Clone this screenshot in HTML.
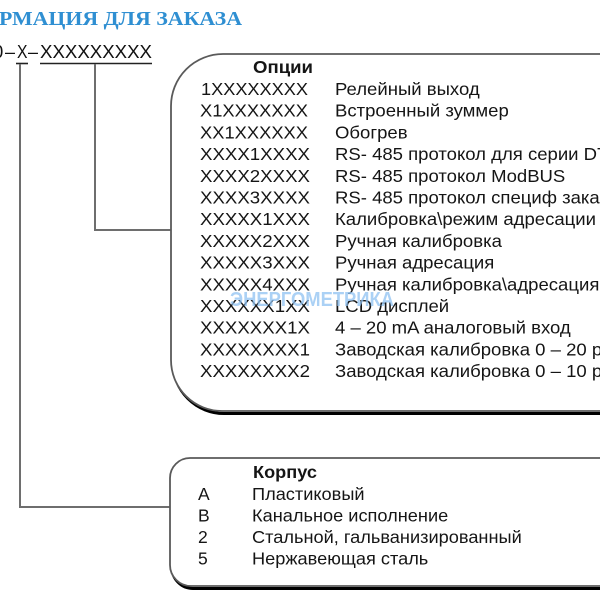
<!DOCTYPE html>
<html>
<head>
<meta charset="utf-8">
<style>
html,body{margin:0;padding:0;background:#fff;}
svg{display:block;}
.t{font-family:"Liberation Sans",Arial,sans-serif;font-size:17.5px;fill:#151515;}
.c{font-family:"Liberation Sans",Arial,sans-serif;font-size:18.5px;fill:#111;}
.b{font-family:"Liberation Sans",Arial,sans-serif;font-size:17.5px;font-weight:bold;fill:#151515;}
</style>
</head>
<body>
<svg width="600" height="600" viewBox="0 0 600 600" xmlns="http://www.w3.org/2000/svg">
  <rect width="600" height="600" fill="#fff"/>

  <!-- Title -->
  <text x="-1" y="25" textLength="243" lengthAdjust="spacingAndGlyphs" font-family="'Liberation Serif',serif" font-weight="bold" font-size="20" fill="#2f8fd2">РМАЦИЯ ДЛЯ ЗАКАЗА</text>

  <!-- Code line -->
  <text class="c" x="-7" y="58">0</text>
  <text class="c" x="5" y="58" textLength="10" lengthAdjust="spacingAndGlyphs">–</text>
  <text class="c" x="17" y="58" textLength="10.5" lengthAdjust="spacingAndGlyphs">X</text>
  <text class="c" x="28" y="58" textLength="10" lengthAdjust="spacingAndGlyphs">–</text>
  <text class="c" x="40" y="58" textLength="112" lengthAdjust="spacingAndGlyphs">XXXXXXXXX</text>
  <line x1="16" y1="63.5" x2="28" y2="63.5" stroke="#222" stroke-width="1.6"/>
  <line x1="40" y1="63.5" x2="152" y2="63.5" stroke="#222" stroke-width="1.6"/>

  <!-- Connectors -->
  <path d="M20 64 V507 H171" fill="none" stroke="#6e6e6e" stroke-width="2"/>
  <path d="M95 64 V230 H171" fill="none" stroke="#6e6e6e" stroke-width="2"/>

  <!-- Options box -->
  <path d="M620 55 H223 A52 52 0 0 0 172 107 V361 A51 51 0 0 0 223 412 H620" fill="none" stroke="#000" stroke-width="3" transform="translate(1,1.5)"/>
  <path d="M620 54 H223 A52 52 0 0 0 171 106 V360 A51 51 0 0 0 222 411 H620" fill="#fff" stroke="#5a5a5a" stroke-width="1.8"/>

  <!-- Options header -->
  <text class="b" x="253" y="73" textLength="60" lengthAdjust="spacingAndGlyphs">Опции</text>

  <!-- Option codes -->
  <g class="t">
    <text x="201" y="95" textLength="107" lengthAdjust="spacingAndGlyphs">1XXXXXXXX</text>
    <text x="200" y="116.7" textLength="108" lengthAdjust="spacingAndGlyphs">X1XXXXXXX</text>
    <text x="200" y="138.4" textLength="108" lengthAdjust="spacingAndGlyphs">XX1XXXXXX</text>
    <text x="200" y="160.1" textLength="110" lengthAdjust="spacingAndGlyphs">XXXX1XXXX</text>
    <text x="200" y="181.8" textLength="110" lengthAdjust="spacingAndGlyphs">XXXX2XXXX</text>
    <text x="200" y="203.5" textLength="110" lengthAdjust="spacingAndGlyphs">XXXX3XXXX</text>
    <text x="200" y="225.2" textLength="110" lengthAdjust="spacingAndGlyphs">XXXXX1XXX</text>
    <text x="200" y="246.9" textLength="110" lengthAdjust="spacingAndGlyphs">XXXXX2XXX</text>
    <text x="200" y="268.6" textLength="110" lengthAdjust="spacingAndGlyphs">XXXXX3XXX</text>
    <text x="200" y="290.3" textLength="110" lengthAdjust="spacingAndGlyphs">XXXXX4XXX</text>
    <text x="200" y="312" textLength="110" lengthAdjust="spacingAndGlyphs">XXXXXX1XX</text>
    <text x="200" y="333.7" textLength="110" lengthAdjust="spacingAndGlyphs">XXXXXXX1X</text>
    <text x="200" y="355.4" textLength="110" lengthAdjust="spacingAndGlyphs">XXXXXXXX1</text>
    <text x="200" y="377.1" textLength="110" lengthAdjust="spacingAndGlyphs">XXXXXXXX2</text>
  </g>

  <!-- Option descriptions -->
  <g class="t">
    <text transform="translate(335,95) scale(1.06,1)">Релейный выход</text>
    <text transform="translate(335,116.7) scale(1.06,1)">Встроенный зуммер</text>
    <text transform="translate(335,138.4) scale(1.06,1)">Обогрев</text>
    <text transform="translate(335,160.1) scale(1.06,1)">RS- 485 протокол для серии DT</text>
    <text transform="translate(335,181.8) scale(1.06,1)">RS- 485 протокол ModBUS</text>
    <text transform="translate(335,203.5) scale(1.06,1)">RS- 485 протокол специф заказа</text>
    <text transform="translate(335,225.2) scale(1.06,1)">Калибровка\режим адресации</text>
    <text transform="translate(335,246.9) scale(1.06,1)">Ручная калибровка</text>
    <text transform="translate(335,268.6) scale(1.06,1)">Ручная адресация</text>
    <text transform="translate(335,290.3) scale(1.06,1)">Ручная калибровка\адресация</text>
    <text transform="translate(335,312) scale(1.06,1)">LCD дисплей</text>
    <text transform="translate(335,333.7) scale(1.06,1)">4 – 20 mA аналоговый вход</text>
    <text transform="translate(335,355.4) scale(1.06,1)">Заводская калибровка 0 – 20 ppm</text>
    <text transform="translate(335,377.1) scale(1.06,1)">Заводская калибровка 0 – 10 ppm</text>
  </g>

  <!-- Watermark -->
  <text x="230" y="306" textLength="164" lengthAdjust="spacingAndGlyphs" font-family="'Liberation Sans',sans-serif" font-weight="bold" font-size="20" fill="#8fc2f2" fill-opacity="0.75">ЭНЕРГОМЕТРИКА</text>

  <!-- Корпус box -->
  <path d="M620 459 H191 A21 21 0 0 0 171 480 V566 A21 21 0 0 0 192 587 H620" fill="none" stroke="#000" stroke-width="3" transform="translate(1,1.5)"/>
  <path d="M620 458 H190 A20 20 0 0 0 170 478 V565 A21 21 0 0 0 191 586 H620" fill="#fff" stroke="#5a5a5a" stroke-width="1.8"/>

  <text class="b" x="253" y="478" textLength="64" lengthAdjust="spacingAndGlyphs">Корпус</text>
  <g class="t">
    <text x="198" y="500">A</text>
    <text x="198" y="521.5">B</text>
    <text x="198" y="543">2</text>
    <text x="198" y="564.5">5</text>
    <text transform="translate(252,500) scale(1.04,1)">Пластиковый</text>
    <text transform="translate(252,521.5) scale(1.04,1)">Канальное исполнение</text>
    <text transform="translate(252,543) scale(1.04,1)">Стальной, гальванизированный</text>
    <text transform="translate(252,564.5) scale(1.04,1)">Нержавеющая сталь</text>
  </g>
</svg>
</body>
</html>
